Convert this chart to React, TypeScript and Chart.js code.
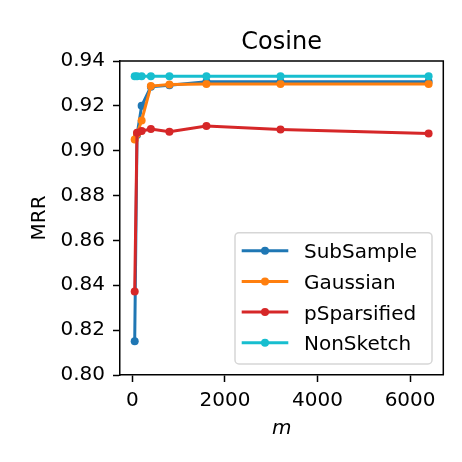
import React, { useEffect, useRef } from "react";
import { Chart, registerables } from "chart.js";

Chart.register(...registerables);

const TITLE = "Cosine";
const X_LABEL = "m";
const Y_LABEL = "MRR";

const mValues = [50, 100, 200, 400, 800, 1600, 3200, 6400];
const xTicks = [0, 2000, 4000, 6000];
const yTicks = [0.8, 0.82, 0.84, 0.86, 0.88, 0.9, 0.92, 0.94];

const seriesNames = ["SubSample", "Gaussian", "pSparsified", "NonSketch"];
const seriesColors = ["#1f77b4", "#ff7f0e", "#d62728", "#17becf"];

const subSample = [0.815, 0.907, 0.92, 0.9285, 0.9292, 0.9308, 0.9307, 0.9307];
const gaussian = [0.905, 0.9075, 0.9135, 0.9288, 0.9295, 0.9298, 0.9298, 0.9298];
const pSparsified = [0.8372, 0.908, 0.9088, 0.9097, 0.9085, 0.911, 0.9095, 0.9077];
const nonSketch = [0.9332, 0.9332, 0.9332, 0.9332, 0.9332, 0.9332, 0.9332, 0.9332];

const seriesValues = [subSample, gaussian, pSparsified, nonSketch];

const FONT = '"DejaVu Sans", "Liberation Sans", sans-serif';

const decoPlugin = {
  id: "deco",
  afterDraw(chart: any) {
    const ctx = chart.ctx as CanvasRenderingContext2D;
    const a = chart.chartArea;
    ctx.save();
    // top and right spines
    ctx.strokeStyle = "#000";
    ctx.lineWidth = 1.5;
    ctx.beginPath();
    ctx.moveTo(a.left, a.top);
    ctx.lineTo(a.right, a.top);
    ctx.lineTo(a.right, a.bottom);
    ctx.stroke();

    // title
    ctx.fillStyle = "#000";
    ctx.textAlign = "center";
    ctx.textBaseline = "alphabetic";
    ctx.font = `24px ${FONT}`;
    ctx.fillText(TITLE, (a.left + a.right) / 2, a.top - 12.5);

    // x label
    ctx.font = `italic 20px ${FONT}`;
    ctx.fillText(X_LABEL, (a.left + a.right) / 2, 434);

    // y label
    ctx.save();
    ctx.translate(45, (a.top + a.bottom) / 2);
    ctx.rotate(-Math.PI / 2);
    ctx.font = `20px ${FONT}`;
    ctx.fillText(Y_LABEL, 0, 0);
    ctx.restore();

    // legend
    const right = a.right - 11.3;
    const bottom = a.bottom - 11;
    const left = right - 197;
    const top = bottom - 131.3;
    ctx.beginPath();
    const r = 4;
    ctx.moveTo(left + r, top);
    ctx.lineTo(right - r, top);
    ctx.arcTo(right, top, right, top + r, r);
    ctx.lineTo(right, bottom - r);
    ctx.arcTo(right, bottom, right - r, bottom, r);
    ctx.lineTo(left + r, bottom);
    ctx.arcTo(left, bottom, left, bottom - r, r);
    ctx.lineTo(left, top + r);
    ctx.arcTo(left, top, left + r, top, r);
    ctx.closePath();
    ctx.fillStyle = "rgba(255,255,255,0.85)";
    ctx.fill();
    ctx.strokeStyle = "#d6d6d6";
    ctx.lineWidth = 1.5;
    ctx.stroke();

    ctx.font = `20px ${FONT}`;
    ctx.textAlign = "left";
    seriesNames.forEach((name, i) => {
      const cy = top + 18 + i * 30.7;
      ctx.strokeStyle = seriesColors[i];
      ctx.lineWidth = 3;
      ctx.beginPath();
      ctx.moveTo(left + 6.7, cy);
      ctx.lineTo(left + 53.3, cy);
      ctx.stroke();
      ctx.fillStyle = seriesColors[i];
      ctx.beginPath();
      ctx.arc(left + 30, cy, 4, 0, Math.PI * 2);
      ctx.fill();
      ctx.fillStyle = "#000";
      ctx.fillText(name, left + 69, cy + 7.5);
    });
    ctx.restore();
  },
};

export default function App() {
  const ref = useRef<HTMLCanvasElement | null>(null);
  useEffect(() => {
    if (!ref.current) return;
    const datasets = seriesNames.map((name, i) => ({
      label: name,
      data: mValues.map((m, j) => ({ x: m, y: seriesValues[i][j] })),
      borderColor: seriesColors[i],
      backgroundColor: seriesColors[i],
      borderWidth: 3,
      pointRadius: 4,
      pointBorderWidth: 0,
      pointHoverRadius: 4,
      tension: 0,
      fill: false,
      order: seriesNames.length - i,
    }));
    const chart = new Chart(ref.current, {
      type: "line",
      data: { datasets },
      plugins: [decoPlugin],
      options: {
        animation: false,
        responsive: false,
        devicePixelRatio: 1,
        layout: { padding: { left: 0, top: 61, right: 18.7, bottom: 0 } },
        plugins: {
          legend: { display: false },
          title: { display: false },
          tooltip: { enabled: false },
        },
        scales: {
          x: {
            type: "linear",
            min: -267.5,
            max: 6717.5,
            afterBuildTicks: (s: any) => {
              s.ticks = xTicks.map((v) => ({ value: v }));
            },
            afterFit: (s: any) => {
              s.height = 87;
            },
            ticks: {
              color: "#000",
              font: { family: FONT, size: 20 },
              padding: 7,
              maxRotation: 0,
              autoSkip: false,
              callback: (v: any) => String(v),
            },
            grid: {
              display: true,
              drawOnChartArea: false,
              drawTicks: true,
              tickLength: 7,
              tickWidth: 1.5,
              tickColor: "#000",
            },
            border: { display: true, color: "#000", width: 1.5 },
          },
          y: {
            type: "linear",
            min: 0.8,
            max: 0.94,
            afterBuildTicks: (s: any) => {
              s.ticks = yTicks.map((v) => ({ value: v }));
            },
            afterFit: (s: any) => {
              s.width = 120;
            },
            ticks: {
              color: "#000",
              font: { family: FONT, size: 20 },
              padding: 8,
              autoSkip: false,
              callback: (v: any) => Number(v).toFixed(2),
            },
            grid: {
              display: true,
              drawOnChartArea: false,
              drawTicks: true,
              tickLength: 7,
              tickWidth: 1.5,
              tickColor: "#000",
            },
            border: { display: true, color: "#000", width: 1.5 },
          },
        },
      },
    });
    return () => chart.destroy();
  }, []);
  return (
    <div style={{ position: "fixed", left: 0, top: 0, width: 462, height: 462, background: "#fff" }}>
      <canvas ref={ref} width={462} height={462} style={{ width: 462, height: 462, display: "block" }} />
    </div>
  );
}
